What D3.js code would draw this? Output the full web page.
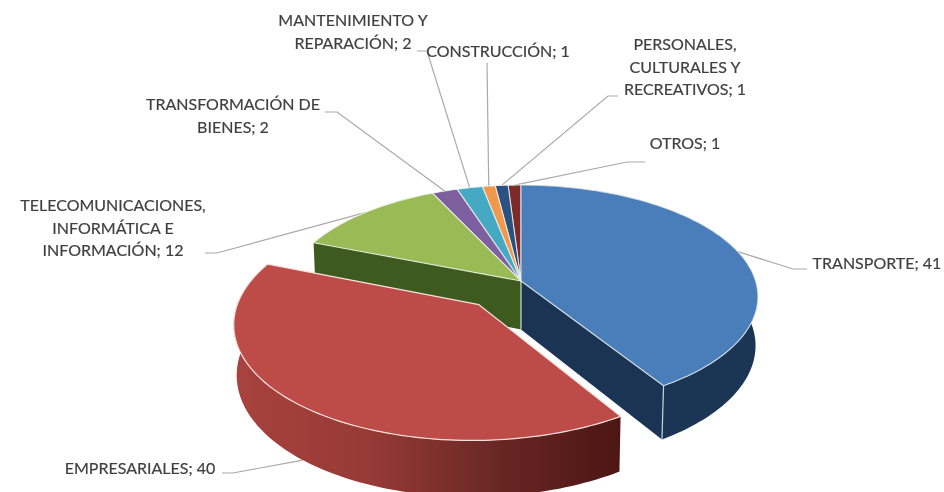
<!DOCTYPE html>
<html>
<head>
<meta charset="utf-8">
<script src="https://cdn.jsdelivr.net/npm/d3@7"></script>
<style>
  html, body { margin: 0; background: #fff; }
  svg { display: block; filter: blur(0.5px); }
  text { font-family: Lato, sans-serif; font-size: 16px; fill: #404040; stroke: #404040; stroke-width: 0.2px; text-anchor: middle; }
</style>
</head>
<body>
<div id="chart"></div>
<script>
// data
var categories = ["TRANSPORTE", "EMPRESARIALES", "TELECOMUNICACIONES, INFORMÁTICA E INFORMACIÓN",
  "TRANSFORMACIÓN DE BIENES", "MANTENIMIENTO Y REPARACIÓN", "CONSTRUCCIÓN",
  "PERSONALES, CULTURALES Y RECREATIVOS", "OTROS"];
var values = [41, 40, 12, 2, 2, 1, 1, 1];
var topColors = ["#4a7ebb", "#bd4b48", "#99ba55", "#7d5fa0", "#46a9c4", "#f0984e", "#2a5180", "#7c2a2a"];

// label layout: wrapped lines, text centre, first baseline, leader elbow and leader end
var labelLines = [
  ["TRANSPORTE; 41"],
  ["EMPRESARIALES; 40"],
  ["TELECOMUNICACIONES,", "INFORMÁTICA E", "INFORMACIÓN; 12"],
  ["TRANSFORMACIÓN DE", "BIENES; 2"],
  ["MANTENIMIENTO Y", "REPARACIÓN; 2"],
  ["CONSTRUCCIÓN; 1"],
  ["PERSONALES,", "CULTURALES Y", "RECREATIVOS; 1"],
  ["OTROS; 1"]
];
var labelX = [877, 140, 113, 233, 353, 498, 685, 685];
var labelY = [269, 474, 211, 110, 26, 57, 50, 149];
var leaderEnds = [[[793, 269], [807, 269]], [[233, 473], [222, 473]], [[217, 253], [205, 253]],
  [[337, 112], [325, 112]], [[427, 51], [417, 51]], [[487, 63]], [[608, 96], [618, 96]], [[627, 162], [645, 162]]];

var width = 944, height = 492;
var svg = d3.select("#chart").append("svg").attr("width", width).attr("height", height);

var defs = svg.append("defs");
var redSide = defs.append("linearGradient").attr("id", "redSide")
  .attr("gradientUnits", "userSpaceOnUse").attr("x1", 234).attr("x2", 622).attr("y1", 0).attr("y2", 0);
redSide.append("stop").attr("offset", "0").attr("stop-color", "#a8423e");
redSide.append("stop").attr("offset", "0.35").attr("stop-color", "#963a36");
redSide.append("stop").attr("offset", "0.7").attr("stop-color", "#672623");
redSide.append("stop").attr("offset", "1").attr("stop-color", "#4c1513");

// pie lying on a plane, seen in perspective
var cx = 521, cy = 281, sx = 234.6, sy = 109.4, persp = 0.14, depth = 49, converge = 0.01;
var explodeBy = 0.273;

function project(angle, r, z, explode) {
  var u = r * Math.sin(angle), v = r * Math.cos(angle);
  if (explode) {
    u += explode.u;
    v += explode.v;
  }
  var w = 1 + persp * v + converge * z;
  return [cx + sx * u / w, cy + (-sy * v + depth * z) / w];
}

var pie = d3.pie().sort(null).value(function(d) { return d; });
var arcs = pie(values);
var offsets = arcs.map(function(a, i) {
  if (i !== 1) return null;
  var mid = (a.startAngle + a.endAngle) / 2;
  return { u: explodeBy * Math.sin(mid), v: explodeBy * Math.cos(mid) };
});

var line = d3.line();

function rim(a, z, off) {
  var n = Math.max(4, Math.ceil((a.endAngle - a.startAngle) * 40));
  return d3.range(n + 1).map(function(k) {
    return project(a.startAngle + (a.endAngle - a.startAngle) * k / n, 1, z, off);
  });
}
function topFace(a, off) {
  return line([project(0, 0, 0, off)].concat(rim(a, 0, off))) + "Z";
}
function wall(a, off) {
  return line(rim(a, 0, off).concat(rim(a, 1, off).reverse())) + "Z";
}
function cutFace(angle, off) {
  return line([project(0, 0, 0, off), project(angle, 1, 0, off), project(angle, 1, 1, off), project(0, 0, 1, off)]) + "Z";
}

// leaders go under the pie
var leaders = svg.append("g").attr("fill", "none").attr("stroke", "#a9a9a9").attr("stroke-width", 1.2);
arcs.forEach(function(a, i) {
  var mid = (a.startAngle + a.endAngle) / 2;
  var start = project(mid, 1, i === 1 ? 1 : 0, offsets[i]);
  leaders.append("path").attr("d", line([start].concat(leaderEnds[i])));
});

var pieG = svg.append("g");

// back faces
pieG.append("path").attr("d", cutFace(arcs[2].startAngle, null)).attr("fill", "#3f5a1f");
pieG.append("path").attr("d", cutFace(arcs[0].endAngle, null)).attr("fill", "#1b3454");
pieG.append("path").attr("d", wall(arcs[0], null)).attr("fill", "#1b3555");
pieG.append("path").attr("d", line([project(arcs[0].endAngle, 1, 0), project(arcs[0].endAngle, 1, 1)]))
  .attr("stroke", "#c5d3e2").attr("stroke-width", 1.2);
pieG.append("path").attr("d", line([project(0, 0, 0), project(0, 0, 1)]))
  .attr("stroke", "#d5dccb").attr("stroke-width", 1.2);

// top faces, the exploded slice last
[7, 6, 5, 4, 3, 2, 0].forEach(function(i) {
  pieG.append("path").attr("d", topFace(arcs[i], null)).attr("fill", topColors[i])
    .attr("stroke", "#f2f5f0").attr("stroke-width", 1.1).attr("stroke-opacity", 0.8).attr("stroke-linejoin", "round");
});

pieG.append("path").attr("d", wall(arcs[1], offsets[1])).attr("fill", "url(#redSide)");
pieG.append("path").attr("d", topFace(arcs[1], offsets[1])).attr("fill", topColors[1])
  .attr("stroke", "#f8e3df").attr("stroke-width", 1.2).attr("stroke-linejoin", "round");

// labels
labelLines.forEach(function(lines, i) {
  var t = svg.append("text").attr("x", labelX[i]).attr("y", labelY[i]);
  lines.forEach(function(s, k) {
    t.append("tspan").attr("x", labelX[i]).attr("dy", k ? 22.5 : 0).text(s);
  });
});
</script>
</body>
</html>
